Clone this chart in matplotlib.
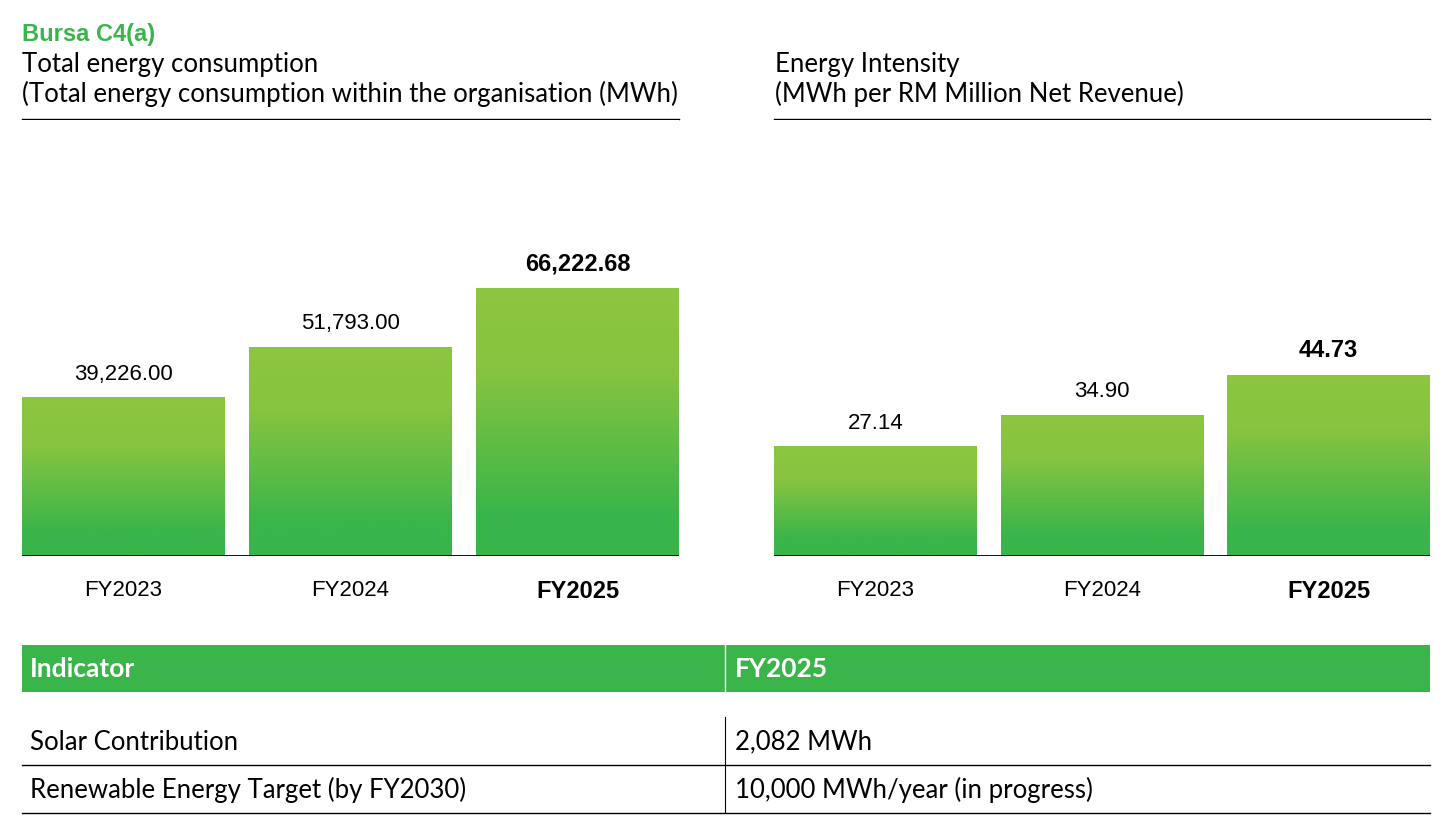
import numpy as np
import matplotlib
matplotlib.use("Agg")
import matplotlib.pyplot as plt
from matplotlib.colors import LinearSegmentedColormap
from matplotlib.patches import Rectangle

years = ["FY2023", "FY2024", "FY2025"]
energy_mwh = [39226.00, 51793.00, 66222.68]
intensity = [27.14, 34.90, 44.73]
energy_labels = ["39,226.00", "51,793.00", "66,222.68"]
intensity_labels = ["27.14", "34.90", "44.73"]

table_header = ["Indicator", "FY2025"]
table_rows = [
    ["Solar Contribution", "2,082 MWh"],
    ["Renewable Energy Target (by FY2030)", "10,000 MWh/year (in progress)"],
]

GREEN = "#39B54A"
LIGHT = "#8DC63F"
TITLE_FONT = ["Lato", "DejaVu Sans"]
NUM_FONT = ["Liberation Sans", "DejaVu Sans"]

grad = LinearSegmentedColormap.from_list(
    "bar", [(0, LIGHT), (0.3, "#88C440"), (0.85, GREEN), (1, GREEN)])

W, H = 1454, 834
fig = plt.figure(figsize=(W / 100, H / 100), dpi=100)

# background layer in pixel coordinates for titles, rules and the table
bg = fig.add_axes([0, 0, 1, 1], zorder=0)
bg.set_xlim(0, W)
bg.set_ylim(H, 0)
bg.axis("off")


def px_axes(x0, x1, ytop, ybot):
    return fig.add_axes([x0 / W, (H - ybot) / H, (x1 - x0) / W, (ybot - ytop) / H], zorder=1)


def bar_panel(ax, values, labels, ymax):
    width = 0.894
    x = np.arange(len(values))
    bars = ax.bar(x, values, width=width, color="none", edgecolor="none")
    for b in bars:
        img = ax.imshow(np.linspace(0, 1, 256).reshape(-1, 1), cmap=grad, aspect="auto",
                        extent=[b.get_x(), b.get_x() + b.get_width(), 0, b.get_height()],
                        origin="upper", zorder=2)
        img.set_clip_path(b)
    ax.set_xlim(-width / 2, len(values) - 1 + width / 2)
    ax.set_ylim(0, ymax)
    ax.axhline(0, color="black", lw=1.3, zorder=3)
    for s in ax.spines.values():
        s.set_visible(False)
    ax.set_yticks([])
    ax.set_xticks(x)
    ax.set_xticklabels(years, family=NUM_FONT, fontsize=16)
    ax.tick_params(axis="x", length=0, pad=17)
    ax.get_xticklabels()[-1].set_fontweight("bold")
    ax.get_xticklabels()[-1].set_fontsize(17)
    for i, (v, lab) in enumerate(zip(values, labels)):
        last = i == len(values) - 1
        ax.annotate(lab, (i, v), xytext=(0, 9), textcoords="offset points",
                    ha="center", va="bottom", family=NUM_FONT,
                    fontsize=17 if last else 16,
                    fontweight="bold" if last else "normal")


ax1 = px_axes(22, 679, 120, 556)
bar_panel(ax1, energy_mwh, energy_labels, 436 * 247.3)
ax2 = px_axes(774, 1430, 120, 556)
bar_panel(ax2, intensity, intensity_labels, 436 * 0.2471)

# titles
bg.text(22, 34, "Bursa C4(a)", color=GREEN, fontsize=17, fontweight="bold",
        family=NUM_FONT, va="center")
bg.text(22, 64, "Total energy consumption", fontsize=18.5, family=TITLE_FONT, va="center")
bg.text(22, 94, "(Total energy consumption within the organisation (MWh)", fontsize=18.5,
        family=TITLE_FONT, va="center")
bg.text(775, 64, "Energy Intensity", fontsize=18.5, family=TITLE_FONT, va="center")
bg.text(775, 94, "(MWh per RM Million Net Revenue)", fontsize=18.5, family=TITLE_FONT, va="center")
bg.plot([22, 679], [119, 119], color="black", lw=1)
bg.plot([774, 1430], [119, 119], color="black", lw=1)

# table
bg.add_patch(Rectangle((22, 645), 1408, 47, color=GREEN, lw=0))
bg.plot([725, 725], [645, 692], color="white", lw=1)
bg.text(30, 669, table_header[0], color="white", fontsize=19, fontweight="bold",
        family=TITLE_FONT, va="center")
bg.text(735, 669, table_header[1], color="white", fontsize=19, fontweight="bold",
        family=TITLE_FONT, va="center")
row_y = [742, 790]
for y, (a, b) in zip(row_y, table_rows):
    bg.text(30, y, a, fontsize=18.5, family=TITLE_FONT, va="center")
    bg.text(735, y, b, fontsize=18.5, family=TITLE_FONT, va="center")
    bg.plot([22, 1430], [y + 23, y + 23], color="black", lw=1)
bg.plot([725, 725], [717, 813], color="black", lw=0.8)

fig.savefig("out.png", dpi=100, facecolor="white")
